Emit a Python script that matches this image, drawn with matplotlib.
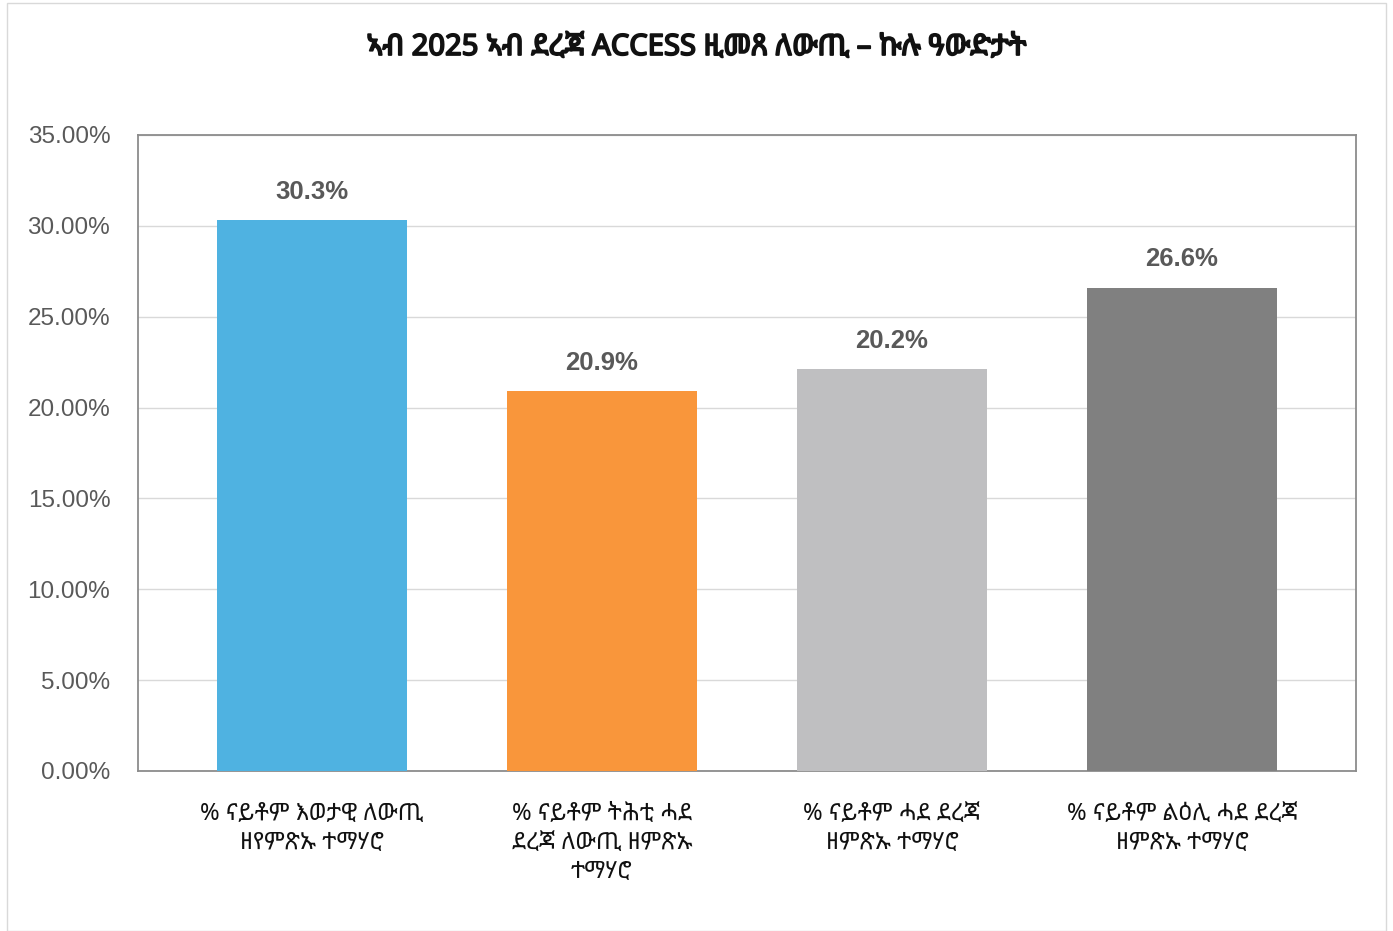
import matplotlib
matplotlib.use("Agg")
import matplotlib.pyplot as plt
import matplotlib.patheffects as pe
from matplotlib.patches import Rectangle
from matplotlib.ticker import FuncFormatter, MultipleLocator

# data
categories = [
    "% ናይቶም እወታዊ ለውጢ\nዘየምጽኡ ተማሃሮ",
    "% ናይቶም ትሕቲ ሓደ\nደረጃ ለውጢ ዘምጽኡ\nተማሃሮ",
    "% ናይቶም ሓደ ደረጃ\nዘምጽኡ ተማሃሮ",
    "% ናይቶም ልዕሊ ሓደ ደረጃ\nዘምጽኡ ተማሃሮ",
]
values = [30.3, 20.9, 22.1, 26.6]
value_labels = ["30.3%", "20.9%", "20.2%", "26.6%"]
colors = ["#4FB2E1", "#F9963B", "#BFBFC1", "#808080"]
title = "ኣብ 2025 ኣብ ደረጃ ACCESS ዚመጸ ለውጢ – ኩሉ ዓውድታት"

eth = ["Noto Sans Ethiopic", "Open Sans", "DejaVu Sans"]

fig = plt.figure(figsize=(13.93, 9.31), dpi=100)
ax = fig.add_axes([0.0991, 0.1719, 0.8743, 0.6831])

x = range(len(values))
ax.bar(x, values, width=0.655, color=colors, zorder=3)

for i, (v, lab) in enumerate(zip(values, value_labels)):
    ax.annotate(lab, (i, v), xytext=(0, 12), textcoords="offset points",
                ha="center", va="bottom", fontsize=18.5, fontweight="bold",
                color="#595959", family="Liberation Sans")

ax.set_xlim(-0.6, 3.6)
ax.set_ylim(0, 35)
ax.yaxis.set_major_locator(MultipleLocator(5))
ax.yaxis.set_major_formatter(FuncFormatter(lambda y, p: f"{y:.2f}%"))
ax.grid(axis="y", color="#D9D9D9", linewidth=1, zorder=0)
for s in ax.spines.values():
    s.set_color("#8C8C8C")
    s.set_linewidth(1.3)

ax.tick_params(axis="y", length=0, pad=20, labelsize=17.5, labelcolor="#595959")
for t in ax.get_yticklabels():
    t.set_family("Liberation Sans")

ax.set_xticks(list(x))
ax.set_xticklabels(categories, family=eth, fontsize=17, color="#111111",
                   linespacing=1.3)
ax.tick_params(axis="x", length=0, pad=22)

fig.text(0.5, 0.949, title, ha="center", va="center", fontsize=21,
         family=eth, color="#111111",
         path_effects=[pe.withStroke(linewidth=1.3, foreground="#111111")])

fig.patches.append(Rectangle((0.005, 0.0), 0.99, 0.997, transform=fig.transFigure,
                             fill=False, edgecolor="#D9D9D9", linewidth=1))

fig.savefig("out.png", dpi=100)
